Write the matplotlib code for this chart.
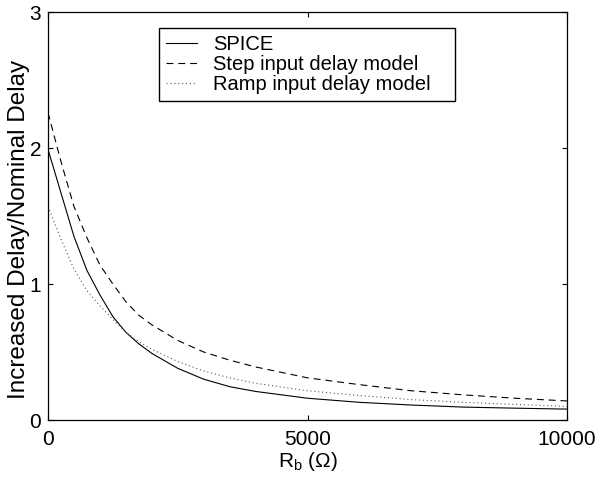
import matplotlib
matplotlib.use("Agg")
import matplotlib.pyplot as plt

plt.rcParams['font.family'] = ['Liberation Sans', 'DejaVu Sans']
plt.rcParams['mathtext.fontset'] = 'custom'
plt.rcParams['mathtext.rm'] = 'Liberation Sans'
plt.rcParams['mathtext.it'] = 'Liberation Sans'
plt.rcParams['lines.scale_dashes'] = False

# Data
rb = [0, 250, 500, 750, 1000, 1250, 1500, 1750, 2000, 2500, 3000, 3500,
      4000, 5000, 6000, 7000, 8000, 9000, 10000]
spice = [1.99, 1.67, 1.35, 1.10, 0.92, 0.76, 0.645, 0.56, 0.49, 0.38, 0.30,
         0.245, 0.21, 0.16, 0.13, 0.11, 0.095, 0.087, 0.08]
step_model = [2.26, 1.90, 1.57, 1.34, 1.14, 1.00, 0.87, 0.77, 0.70, 0.585,
              0.50, 0.44, 0.39, 0.31, 0.26, 0.215, 0.185, 0.16, 0.14]
ramp_model = [1.57, 1.33, 1.11, 0.95, 0.84, 0.74, 0.645, 0.575, 0.52, 0.43,
              0.36, 0.31, 0.27, 0.215, 0.18, 0.15, 0.13, 0.115, 0.10]

labels = ["SPICE", "Step input delay model", "Ramp input delay model"]
xticks = [0, 5000, 10000]
yticks = [0, 1, 2, 3]

fig = plt.figure(figsize=(5.97, 4.78), dpi=100)
ax = fig.add_axes([48/597, 58/478, 519/597, 408/478])

ax.plot(rb, spice, color='black', lw=0.8, linestyle='-', label=labels[0])
ax.plot(rb, step_model, color='black', lw=0.8, linestyle=(0, (5, 3.5)), label=labels[1])
ax.plot(rb, ramp_model, color='0.35', lw=0.8, linestyle=(0, (0.8, 2.0)), label=labels[2])

ax.set_xlim(0, 10000)
ax.set_ylim(0, 3)
ax.set_xticks(xticks)
ax.set_yticks(yticks)
ax.set_xticklabels([str(t) for t in xticks])
ax.set_yticklabels([str(t) for t in yticks])
ax.tick_params(direction='in', length=3.6, width=0.8, labelsize=15,
               top=True, right=True, pad=5)
ax.tick_params(axis='x', pad=7)
for s in ax.spines.values():
    s.set_linewidth(0.9)

ax.set_xlabel(r'R$_{\mathrm{b}}$ ($\Omega$)', fontsize=15, labelpad=1)
ax.set_ylabel('Increased Delay/Nominal Delay', fontsize=17.5)
ax.yaxis.set_label_coords(-0.035, 0.466)

leg = ax.legend(loc='upper left', bbox_to_anchor=(0.214, 0.775, 0.570, 0.186),
                mode='expand', borderaxespad=0, fontsize=14.5, handlelength=1.55,
                handletextpad=0.8, borderpad=0.35, labelspacing=0.05,
                fancybox=False, framealpha=1, edgecolor='black')
leg.get_frame().set_linewidth(1.0)

fig.savefig('out.png', dpi=100)
